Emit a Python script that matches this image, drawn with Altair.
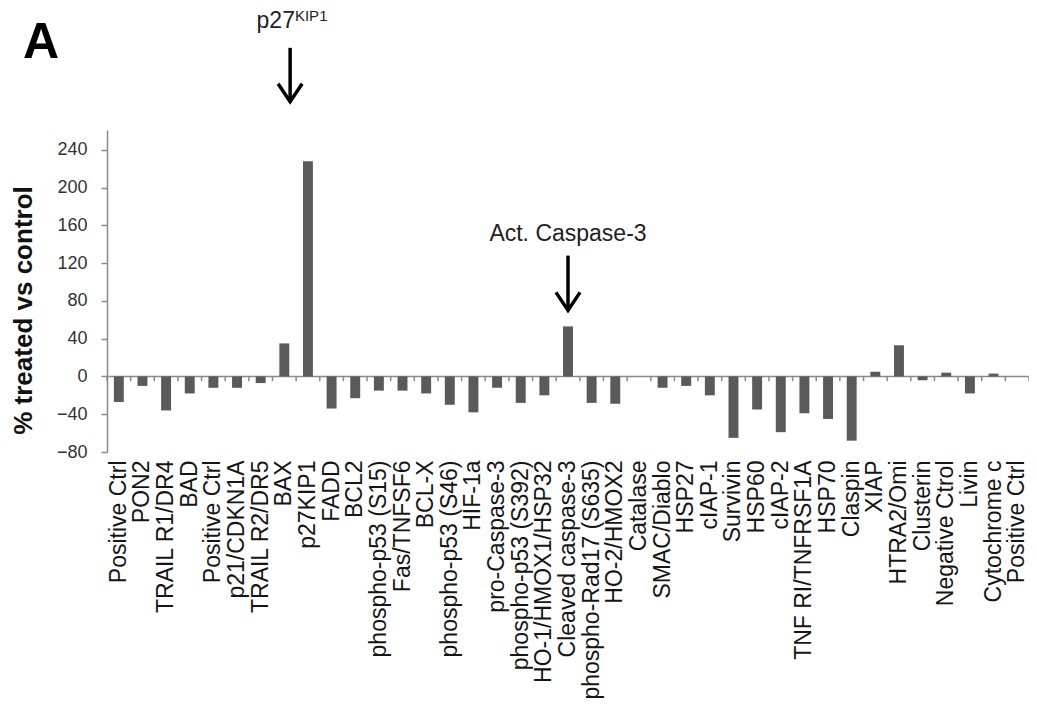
import json
import altair as alt
import pandas as pd

# ---------------- data ----------------
categories = [
    "Positive Ctrl", "PON2", "TRAIL R1/DR4", "BAD", "Positive Ctrl", "p21/CDKN1A",
    "TRAIL R2/DR5", "BAX", "p27KIP1", "FADD", "BCL2", "phospho-p53 (S15)",
    "Fas/TNFSF6", "BCL-X", "phospho-p53 (S46)", "HIF-1a", "pro-Caspase-3",
    "phospho-p53 (S392)", "HO-1/HMOX1/HSP32", "Cleaved caspase-3",
    "phospho-Rad17 (S635)", "HO-2/HMOX2", "Catalase", "SMAC/Diablo", "HSP27",
    "cIAP-1", "Survivin", "HSP60", "cIAP-2", "TNF RI/TNFRSF1A", "HSP70", "Claspin",
    "XIAP", "HTRA2/Omi", "Clusterin", "Negative Ctrol", "Livin", "Cytochrome c",
    "Positive Ctrl",
]
values = [
    -27, -10, -36, -18, -12, -12, -7, 35, 228, -34, -23, -15, -15, -18, -30, -38,
    -12, -28, -20, 53, -28, -29, 0, -12, -10, -20, -65, -35, -59, -39, -45, -68,
    5, 33, -4, 4, -18, 3, 0,
]
y_ticks = [-80, -40, 0, 40, 80, 120, 160, 200, 240]
y_domain = [-80, 261]

# annotations (anchored to bars, y in data units)
ann_idx = [8, 19]
ann_main = ["p27", "Act. Caspase-3"]
ann_sup = ["KIP1", ""]
ann_label_y = [369, 143]
ann_arrow_top = [348, 128]
ann_arrow_tip = [291, 70]
panel_label = ["A"]
y_title = "% treated vs control"

df = pd.DataFrame({"idx": list(range(len(categories))), "name": categories, "value": values})
ann = pd.DataFrame({
    "idx": ann_idx, "main": ann_main, "sup": ann_sup, "label_y": ann_label_y,
    "top": ann_arrow_top, "tip": ann_arrow_tip,
})
panel = pd.DataFrame({"t": panel_label})

FONT = "Liberation Sans"
AXIS_GRAY = "#8a8a8a"
BAR = "#5a5a5a"

label_array = json.dumps(categories)
x_scale = alt.Scale(paddingInner=0, paddingOuter=0)
x_axis = alt.Axis(
    title=None, labelAngle=-90, labelExpr=f"{label_array}[datum.value]",
    labelFont=FONT, labelFontSize=23, labelColor="#151515", labelPadding=8,
    labelLimit=400, labelOverlap=False, domain=False, ticks=False, grid=False,
)
y_scale = alt.Scale(domain=y_domain, nice=False, zero=True)
y_axis = alt.Axis(
    values=y_ticks, grid=False, domainColor=AXIS_GRAY, domainWidth=1.5,
    tickColor=AXIS_GRAY, tickSize=6, tickWidth=1.5,
    labelFont=FONT, labelFontSize=18, labelColor="#333333", labelPadding=14,
    title=y_title, titleFont=FONT, titleFontSize=26, titleFontWeight="bold",
    titleColor="#111111", titleX=-84, titleY=180, titleBaseline="middle",
)


def X(**kw):
    return alt.X("idx:O", scale=x_scale, axis=x_axis, **kw)


def Y(field):
    return alt.Y(field, scale=y_scale, axis=y_axis, title=y_title)


bars = alt.Chart(df).mark_bar(color=BAR, width={"band": 0.42}).encode(
    x=X(), y=Y("value:Q")
)

zero_line = alt.Chart(panel).mark_rule(color=AXIS_GRAY, strokeWidth=1.5).encode(
    y=alt.datum(0)
)

ticks_start = alt.Chart(df).mark_rule(color=AXIS_GRAY, strokeWidth=1.5).encode(
    x=X(bandPosition=0), y=alt.datum(0), y2=alt.datum(-5)
)
ticks_end = alt.Chart(df).transform_filter(
    alt.datum.idx == len(categories) - 1
).mark_rule(color=AXIS_GRAY, strokeWidth=1.5).encode(
    x=X(bandPosition=1), y=alt.datum(0), y2=alt.datum(-5)
)

p27 = alt.datum.sup != ""
other = alt.datum.sup == ""

shaft_p27 = alt.Chart(ann).transform_filter(p27).mark_rule(
    color="black", strokeWidth=3.5
).encode(x=X(), xOffset=alt.value(-6), y=Y("top:Q"), y2="tip:Q")
head_p27 = alt.Chart(ann).transform_filter(p27).mark_point(
    shape="M-1,-1.5L0,0L1,-1.5", filled=False, stroke="black", strokeWidth=3.5,
    size=576, opacity=1, strokeJoin="miter",
).encode(x=X(), xOffset=alt.value(-6), y=Y("tip:Q"))
shaft_c = alt.Chart(ann).transform_filter(other).mark_rule(
    color="black", strokeWidth=3.5
).encode(x=X(), y=Y("top:Q"), y2="tip:Q")
head_c = alt.Chart(ann).transform_filter(other).mark_point(
    shape="M-1,-1.5L0,0L1,-1.5", filled=False, stroke="black", strokeWidth=3.5,
    size=576, opacity=1, strokeJoin="miter",
).encode(x=X(), y=Y("tip:Q"))

txt_p27 = alt.Chart(ann).transform_filter(p27).mark_text(
    align="right", baseline="alphabetic", dx=-13, font=FONT, fontSize=23, color="#222222"
).encode(x=X(), y=Y("label_y:Q"), text="main:N")
txt_sup = alt.Chart(ann).transform_filter(p27).mark_text(
    align="left", baseline="alphabetic", dx=-13, dy=-7, font=FONT, fontSize=15, color="#222222"
).encode(x=X(), y=Y("label_y:Q"), text="sup:N")
txt_c = alt.Chart(ann).transform_filter(other).mark_text(
    align="center", baseline="alphabetic", font=FONT, fontSize=23, color="#222222"
).encode(x=X(), y=Y("label_y:Q"), text="main:N")

letter = alt.Chart(panel).mark_text(
    align="left", baseline="alphabetic", font=FONT, fontSize=50, fontWeight="bold",
    color="black",
).encode(text="t:N", x=alt.value(-84), y=alt.value(-72))

chart = alt.layer(
    zero_line, ticks_start, ticks_end, bars, shaft_p27, head_p27, shaft_c, head_c,
    txt_p27, txt_sup, txt_c, letter,
).properties(
    width=922, height=322,
    padding={"left": 99, "top": 122, "right": 0, "bottom": 258},
    autosize=alt.AutoSizeParams(type="none"),
    background="white",
).configure_view(stroke=None)

chart.save("out.html", embed_options={"renderer": "svg", "actions": False})
